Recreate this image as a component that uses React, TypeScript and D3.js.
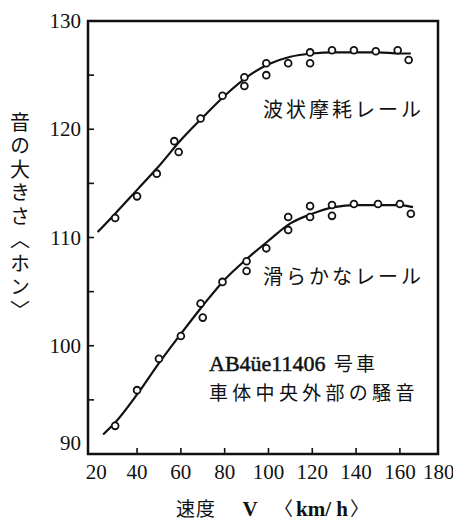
import React from 'react'
import * as d3 from 'd3'

// measured points, corrugated rail (波状摩耗レール)
const wavySpeed = [30, 40, 49, 57, 59, 69, 79, 89, 89, 99, 99, 109, 119, 119, 129, 139, 149, 159, 164]
const wavyLevel = [111.8, 113.8, 115.9, 118.9, 117.9, 121.0, 123.1, 124.8, 124.0, 126.1, 125.0, 126.1, 127.1, 126.1, 127.3, 127.3, 127.2, 127.3, 126.4]
// fitted curve, corrugated rail
const wavyFitSpeed = [22, 30, 40, 50, 60, 70, 80, 90, 100, 110, 120, 130, 140, 150, 160, 165]
const wavyFitLevel = [110.5, 112.2, 114.4, 116.6, 119.0, 121.1, 123.1, 124.8, 126.0, 126.7, 127.0, 127.1, 127.1, 127.1, 127.0, 127.0]

// measured points, smooth rail (滑らかなレール)
const smoothSpeed = [30, 40, 50, 60, 69, 70, 79, 90, 90, 99, 109, 109, 119, 119, 129, 129, 139, 150, 160, 165]
const smoothLevel = [92.6, 95.9, 98.8, 100.9, 103.9, 102.6, 105.9, 107.8, 106.9, 109.0, 111.9, 110.7, 112.9, 111.9, 113.0, 112.0, 113.1, 113.1, 113.1, 112.2]
// fitted curve, smooth rail
const smoothFitSpeed = [24.5, 30, 40, 50, 60, 70, 80, 90, 100, 110, 120, 130, 140, 150, 160, 166]
const smoothFitLevel = [91.8, 92.9, 95.5, 98.4, 101.1, 103.7, 106.1, 108.0, 109.7, 111.3, 112.2, 112.8, 113.0, 113.0, 113.0, 112.8]

const xTicks = [20, 40, 60, 80, 100, 120, 140, 160, 180]
const yTicks = [90, 100, 110, 120, 130]
const yMinor = [95, 100, 105, 110, 115, 120, 125]
const xMinor = [40, 60, 80, 100, 120, 140, 160]

const W = 453
const H = 522
const serif = '"Liberation Serif", "DejaVu Serif", serif'
const jp = '"Noto Sans CJK JP", sans-serif'

const App = () => {
    const x = d3.scaleLinear().domain([17.6, 177.4]).range([88, 438])
    const y = d3.scaleLinear().domain([90, 130]).range([454, 21])

    const line = d3.line<[number, number]>()
        .x(d => x(d[0]))
        .y(d => y(d[1]))
        .curve(d3.curveMonotoneX)

    const wavyFit = line(wavyFitSpeed.map((s, i) => [s, wavyFitLevel[i]]))
    const smoothFit = line(smoothFitSpeed.map((s, i) => [s, smoothFitLevel[i]]))

    const [x0, x1] = x.range()
    const [y0, y1] = y.range()

    return (
        <svg width={W} height={H} style={{ position: 'absolute', left: 0, top: 0, background: '#fff' }}>
            {/* frame */}
            <rect x={x0} y={y1} width={x1 - x0} height={y0 - y1} fill="none" stroke="#111" strokeWidth={2.5} />

            {/* inward ticks */}
            {yMinor.map(v => (
                <line key={'yt' + v} x1={x0} x2={x0 + 6} y1={y(v)} y2={y(v)} stroke="#111" strokeWidth={1.6} />
            ))}
            {xMinor.map(v => (
                <line key={'xt' + v} x1={x(v)} x2={x(v)} y1={y0} y2={y0 - 6} stroke="#111" strokeWidth={1.6} />
            ))}

            {/* tick labels */}
            {yTicks.map(v => (
                <text key={'yl' + v} x={81} y={v === 90 ? y(v) - 4 : y(v) + 7} textAnchor="end"
                    fontFamily={serif} fontSize={21} fill="#111">{v}</text>
            ))}
            {xTicks.map(v => (
                <text key={'xl' + v} x={x(v) + (v === 20 ? 3 : 0) - (v === 180 ? 5 : 0)} y={479} textAnchor="middle"
                    fontFamily={serif} fontSize={21} fill="#111">{v}</text>
            ))}

            {/* fitted curves */}
            <path d={wavyFit || ''} fill="none" stroke="#111" strokeWidth={2.2} />
            <path d={smoothFit || ''} fill="none" stroke="#111" strokeWidth={2.2} />

            {/* measured points */}
            {wavySpeed.map((s, i) => (
                <circle key={'w' + i} cx={x(s)} cy={y(wavyLevel[i])} r={3.4} fill="#fff" stroke="#111" strokeWidth={1.8} />
            ))}
            {smoothSpeed.map((s, i) => (
                <circle key={'s' + i} cx={x(s)} cy={y(smoothLevel[i])} r={3.4} fill="#fff" stroke="#111" strokeWidth={1.8} />
            ))}

            {/* labels */}
            <text x={263} y={117} fontFamily={jp} fontSize={20} letterSpacing={3} fill="#111">波状摩耗レール</text>
            <text x={263} y={284} fontFamily={jp} fontSize={20} letterSpacing={3} fill="#111">滑らかなレール</text>
            <text x={209} y={371} fontFamily={serif} fontSize={22} stroke="#111" strokeWidth={0.5} fill="#111">AB4üe11406</text>
            <text x={334} y={371} fontFamily={jp} fontSize={19} letterSpacing={3} fill="#111">号車</text>
            <text x={209} y={400} fontFamily={jp} fontSize={19} letterSpacing={4.3} fill="#111">車体中央外部の騒音</text>

            {/* axis titles */}
            <text x={20} y={112} fontFamily={jp} fontSize={20} fill="#111"
                style={{ writingMode: 'vertical-rl' as any }} letterSpacing={3.5}>音の大きさ〈ホン〉</text>
            <text x={176} y={516} fontFamily={jp} fontSize={19} letterSpacing={1} fill="#111">速度</text>
            <text x={250} y={516} textAnchor="middle" fontFamily={serif} fontSize={21} fontWeight="bold" fill="#111">V</text>
            <text x={274} y={516} fontFamily={jp} fontSize={19} fill="#111">〈</text>
            <text x={296} y={516} fontFamily={serif} fontSize={21} fontWeight="bold" fill="#111">km/ h</text>
            <text x={350} y={516} fontFamily={jp} fontSize={19} fill="#111">〉</text>
        </svg>
    )
}

export default App
